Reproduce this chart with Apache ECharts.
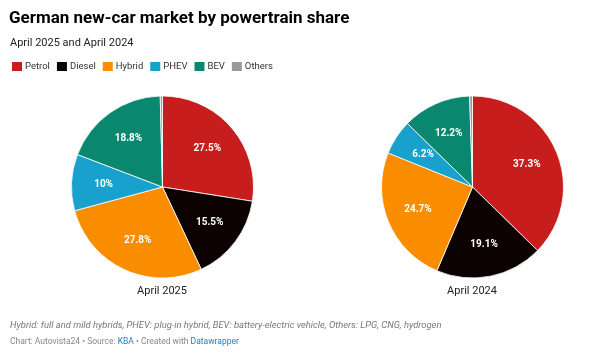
<!DOCTYPE html>
<html>
<head>
<meta charset="utf-8">
<script src="https://cdn.jsdelivr.net/npm/echarts@6/dist/echarts.min.js"></script>
<style>
html,body{margin:0;padding:0;background:#fff;}
#c{width:605px;height:357px;}
</style>
</head>
<body>
<div id="c"></div>
<script>
const categories = ['Petrol', 'Diesel', 'Hybrid', 'PHEV', 'BEV', 'Others'];
const colors = ['#c71e1d', '#0c0202', '#fa8c00', '#18a1cd', '#09886f', '#999999'];
const values2025 = [27.5, 15.5, 27.8, 10, 18.8, 0.4];
const values2024 = [37.3, 19.1, 24.7, 6.2, 12.2, 0.5];
const pieTitles = ['April 2025', 'April 2024'];

const FONT = 'Roboto, "Noto Sans", sans-serif';
const chart = echarts.init(document.getElementById('c'), null, {renderer: 'canvas'});

function mkData(vals) {
  return categories.map((c, i) => ({name: c, value: vals[i], itemStyle: {color: colors[i]}}));
}
function pieSeries(vals, cx) {
  return [{
    type: 'pie',
    center: [cx, 187],
    radius: [0, 91],
    startAngle: 90,
    clockwise: true,
    animation: false,
    data: mkData(vals),
    itemStyle: {borderColor: '#ffffff', borderWidth: 0.8},
    label: {show: false},
    labelLine: {show: false},
    emphasis: {disabled: true}
  }, {
    type: 'pie',
    center: [cx, 187],
    radius: [0, 112],
    startAngle: 90,
    clockwise: true,
    animation: false,
    silent: true,
    legendHoverLink: false,
    data: categories.map((c, i) => ({
      name: c, value: vals[i],
      itemStyle: {color: 'rgba(0,0,0,0)'},
      label: {show: c !== 'Others'}
    })),
    itemStyle: {color: 'rgba(0,0,0,0)', borderWidth: 0},
    label: {
      show: true, position: 'inside', color: '#ffffff',
      fontFamily: FONT, fontSize: 10, fontWeight: 'bold',
      formatter: p => p.value + '%'
    },
    labelLine: {show: false},
    emphasis: {disabled: true},
    tooltip: {show: false}
  }];
}

chart.setOption({
  backgroundColor: '#ffffff',
  animation: false,
  title: [
    {text: 'German new-car market by powertrain share', left: 9, top: 10, padding: 0,
     textStyle: {fontFamily: FONT, fontSize: 17, fontWeight: 'bold', color: '#000000'}},
    {text: 'April 2025 and April 2024', left: 10, top: 38, padding: 0,
     textStyle: {fontFamily: FONT, fontSize: 11, fontWeight: 'normal', color: '#222222'}},
    {text: pieTitles[0], left: 162, textAlign: 'center', top: 286, padding: 0,
     textStyle: {fontFamily: FONT, fontSize: 11, fontWeight: 'normal', color: '#222222'}},
    {text: pieTitles[1], left: 472, textAlign: 'center', top: 286, padding: 0,
     textStyle: {fontFamily: FONT, fontSize: 11, fontWeight: 'normal', color: '#222222'}},
    {text: 'Hybrid: full and mild hybrids, PHEV: plug-in hybrid, BEV: battery-electric vehicle, Others: LPG, CNG, hydrogen',
     left: 10, top: 321, padding: 0,
     textStyle: {fontFamily: FONT, fontSize: 9.4, fontStyle: 'italic', fontWeight: 'normal', color: '#777777'}},
    {text: '{g|Chart: Autovista24 • Source: }{b|KBA}{g| • Created with }{b|Datawrapper}',
     left: 10, top: 337, padding: 0,
     textStyle: {fontFamily: FONT, fontSize: 8.5, fontWeight: 'normal', color: '#888888',
       rich: {g: {fontFamily: FONT, fontSize: 8.5, fontWeight: 'normal', color: '#888888'},
              b: {fontFamily: FONT, fontSize: 8.5, fontWeight: 'normal', color: '#1d81c2'}}}}
  ],
  legend: {
    left: 10, top: 60, padding: 0,
    icon: 'rect', itemWidth: 12, itemHeight: 11, itemGap: 5,
    selectedMode: false,
    data: categories,
    textStyle: {fontFamily: FONT, fontSize: 9.5, color: '#333333', padding: [0, 0, 0, -3]}
  },
  series: [...pieSeries(values2025, 162.5), ...pieSeries(values2024, 472.5)]
});
</script>
</body>
</html>
